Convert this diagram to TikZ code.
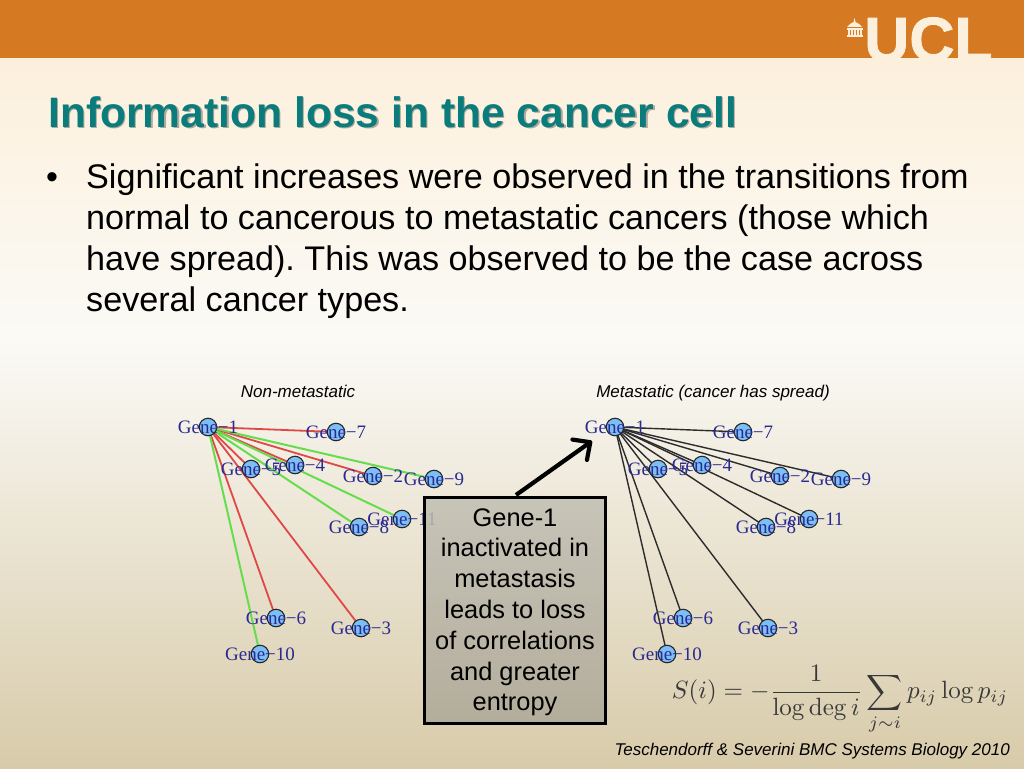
\documentclass[tikz,border=0pt]{standalone}
\usepackage[no-math]{fontspec}
\setmainfont{Liberation Sans}
\newfontfamily\genefont{Liberation Serif}
\newfontfamily\uclfont[BoldFeatures={FakeBold=1.3}]{Liberation Sans}
\usetikzlibrary{arrows.meta}
\definecolor{hdr}{HTML}{D57A22}
\definecolor{cream}{HTML}{FCF0DC}
\definecolor{bgwhite}{HTML}{FBFAF6}
\definecolor{bgtan}{HTML}{D8CBAA}
\definecolor{teal}{HTML}{0A7C7C}
\definecolor{genetxt}{HTML}{2A2A90}
\definecolor{genefill}{HTML}{7CBEF6}
\definecolor{edgered}{HTML}{E04848}
\definecolor{edgegreen}{HTML}{66DD4C}
\definecolor{edgeblack}{HTML}{2C2C2C}
\definecolor{boxtop}{HTML}{C1BEB3}
\definecolor{boxbot}{HTML}{ACA798}
\pgfdeclarelayer{base}
\pgfdeclarelayer{edges}
\pgfsetlayers{base,edges,main}
\frenchspacing
\tikzset{
  x=1pt,y=-1pt,
  genenode/.style={circle,draw=black!85,fill=genefill,line width=1.1pt,minimum size=17.5pt,inner sep=0pt},
  genelabel/.style={text=genetxt,inner sep=0pt,font=\genefont\fontsize{19}{20}\selectfont},
  redge/.style={edgered,line width=1.8pt},
  gedge/.style={edgegreen,line width=2pt},
  kedge/.style={edgeblack,line width=1.4pt},
  caption/.style={inner sep=0pt,anchor=base,font=\itshape\fontsize{17}{20}\selectfont},
}
\newcommand{\gn}[4]{%
  \node[genenode] (#1#2) at (#3,#4) {};
  \node[genelabel] (#1#2t) at (#3,#4) {Gene−#2};
}
\begin{document}
\begin{tikzpicture}
\useasboundingbox (0,0) rectangle (1024,768);
\begin{pgfonlayer}{base}
\fill[top color=cream,bottom color=bgwhite] (0,58) rectangle (1024,340);
\fill[top color=bgwhite,bottom color=bgtan] (0,340) rectangle (1024,768);
\fill[hdr] (0,0) rectangle (1024,58);
\end{pgfonlayer}
% logo
\node[anchor=base west,inner sep=0pt,text=cream,font=\uclfont\bfseries\fontsize{62.5}{63}\selectfont] (ucl) at (864,61) {UCL};
\fill[cream] (847,27) -- (850,24) -- (853.5,22) -- (854.5,18) -- (855.5,22) -- (859,24) -- (862,27) -- cycle;
\fill[cream] (846.5,28) rectangle (862.5,30);
\foreach \xx in {848,851,854,857,860} \fill[cream] (\xx,30) rectangle +(1.6,5);
\fill[cream] (846.5,35) rectangle (862.5,37);
% title and body
\node[anchor=base west,inner sep=0pt,text=black,opacity=.3,font=\bfseries\fontsize{42.6}{44}\selectfont] (titleshadow) at (49.5,128.5) {Information loss in the cancer cell};
\node[anchor=base west,inner sep=0pt,text=teal,font=\bfseries\fontsize{42.6}{44}\selectfont] (title) at (48,127) {Information loss in the cancer cell};
\node[anchor=base west,inner sep=0pt,font=\fontsize{34}{34}\selectfont] (bullet) at (46,188) {•};
\node[anchor=north west,inner sep=0pt,align=left,font=\fontsize{34.15}{41}\selectfont] (body) at (86,164) {Significant increases were observed in the transitions from\\normal to cancerous to metastatic cancers (those which\\have spread). This was observed to be the case across\\several cancer types.};
% captions
\node[caption] (capl) at (298,397) {Non-metastatic};
\node[caption] (capr) at (713,397) {Metastatic (cancer has spread)};
% graphs
\foreach \p/\o in {L/0,R/407}{
  \begin{scope}[xshift=\o pt]
  \gn{\p}{1}{208}{427}\gn{\p}{7}{336}{432}\gn{\p}{4}{295}{465}\gn{\p}{5}{251}{469}
  \gn{\p}{2}{373}{476}\gn{\p}{9}{434}{479}\gn{\p}{11}{402}{519}\gn{\p}{8}{359}{527}
  \gn{\p}{6}{276}{618}\gn{\p}{3}{361}{628}\gn{\p}{10}{260}{654}
  \end{scope}
}
\begin{pgfonlayer}{edges}
\foreach \t/\s in {7/redge,2/redge,9/gedge,4/redge,11/gedge,8/gedge,5/redge,3/redge,6/redge,10/gedge}
  \draw[\s] (L1.center) -- (L\t.center);
\foreach \t in {7,9,2,11,8,4,5,3,6,10}
  \draw[kedge] (R1.center) -- (R\t.center);
\end{pgfonlayer}
% callout
\node[draw=black,line width=3pt,top color=boxtop,bottom color=boxbot,fill opacity=.85,draw opacity=1,minimum width=181pt,minimum height=226pt,inner sep=0pt] (box) at (515,610.5) {};
\node[inner sep=0pt,align=center,font=\fontsize{25.4}{30.8}\selectfont] (boxtext) at (515,612.3) {Gene-1\\inactivated in\\metastasis\\leads to loss\\of correlations\\and greater\\entropy};
\coordinate (arrs) at (516,495);
\coordinate (arre) at (592,441);
\draw[line width=4.2pt,-{Straight Barb[length=13pt,width=25pt,round]},black] (arrs) -- (arre);
% formula
\node[inner sep=0pt,text=black!78,scale=2.5] (eq) at (840,700) {$\displaystyle S(i)=-\frac{1}{\log\deg i}\sum_{j\sim i}p_{ij}\log p_{ij}$};
\node[anchor=base east,inner sep=0pt,font=\itshape\fontsize{17}{18}\selectfont] (cite) at (1010,755) {Teschendorff \& Severini BMC Systems Biology 2010};
\end{tikzpicture}
\end{document}
